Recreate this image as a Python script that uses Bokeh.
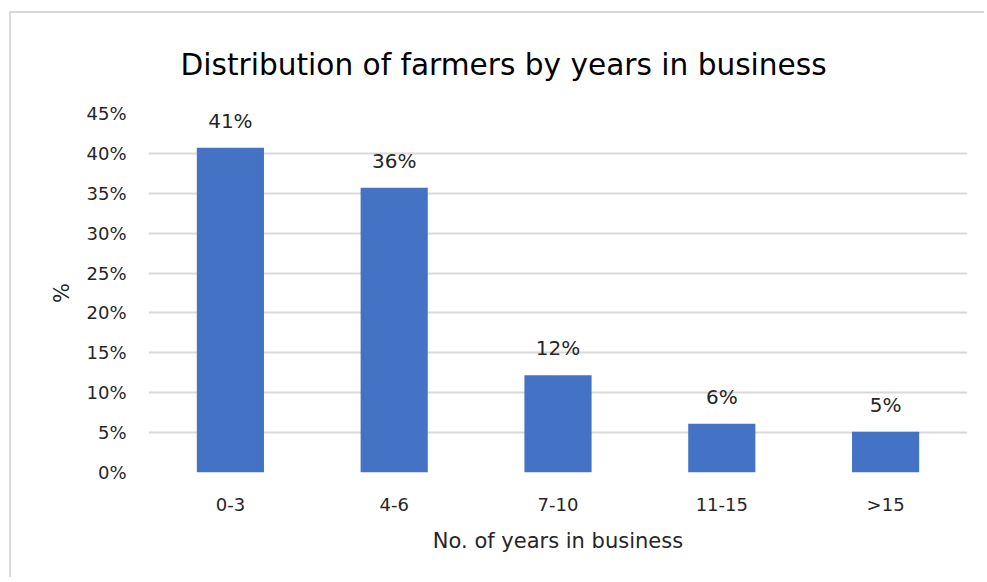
from bokeh.plotting import figure
from bokeh.models import ColumnDataSource, LabelSet, FixedTicker, PrintfTickFormatter, Title, Range1d
from bokeh.core.properties import value
from bokeh.embed import file_html
from bokeh.resources import INLINE

categories = ["0-3", "4-6", "7-10", "11-15", ">15"]
shares = [40.7, 35.7, 12.2, 6.1, 5.1]
y_ticks = [0, 5, 10, 15, 20, 25, 30, 35, 40, 45]

labels = [f"{round(v)}%" for v in shares]
src = ColumnDataSource(dict(cat=categories, val=shares, lab=labels))

FONT = "DejaVu Sans"
TXT = "#262626"
GRID = "#d9d9d9"

p = figure(x_range=categories, y_range=Range1d(0, 45), width=975, height=566,
           output_backend="svg", toolbar_location=None,
           min_border_left=137, min_border_right=19, min_border_top=100, min_border_bottom=107)
p.styles = {"margin-left": "9px", "margin-top": "11px",
            "border-top": "2px solid #d9d9d9", "border-left": "2px solid #d9d9d9",
            "border-right": "none", "border-bottom": "none"}
p.title = Title(text="Distribution of farmers by years in business", align="left",
                text_font=FONT, text_font_size="29.6px", text_font_style="normal",
                text_color="#000000", standoff=64, offset=32)
p.outline_line_color = None
p.background_fill_color = "white"
p.border_fill_color = "white"

p.vbar(x="cat", top="val", width=0.41, source=src, fill_color="#4472C4", line_color=None)

p.add_layout(LabelSet(x="cat", y="val", text="lab", source=src, text_align="center",
                      text_baseline="alphabetic", y_offset=20, text_font=value(FONT),
                      text_font_size="20px", text_color=TXT))

p.yaxis.ticker = FixedTicker(ticks=y_ticks)
p.yaxis.formatter = PrintfTickFormatter(format="%d%%")
p.ygrid.ticker = FixedTicker(ticks=y_ticks)
p.ygrid.grid_line_color = GRID
p.ygrid.grid_line_width = 2
p.xgrid.grid_line_color = None

for ax in (p.xaxis, p.yaxis):
    ax.axis_line_color = None
    ax.major_tick_line_color = None
    ax.minor_tick_line_color = None
    ax.major_tick_out = 0
    ax.major_tick_in = 0
    ax.major_label_text_font = FONT
    ax.major_label_text_font_size = "18px"
    ax.major_label_text_color = TXT
    ax.axis_label_text_font = FONT
    ax.axis_label_text_font_size = "21px"
    ax.axis_label_text_font_style = "normal"
    ax.axis_label_text_color = TXT

p.yaxis.major_label_standoff = 22
p.yaxis.axis_label = "%"
p.yaxis.axis_label_standoff = 9
p.xaxis.major_label_standoff = 21
p.xaxis.axis_label = "No. of years in business"
p.xaxis.axis_label_standoff = 11

open("out.html", "w").write(file_html(p, INLINE))
